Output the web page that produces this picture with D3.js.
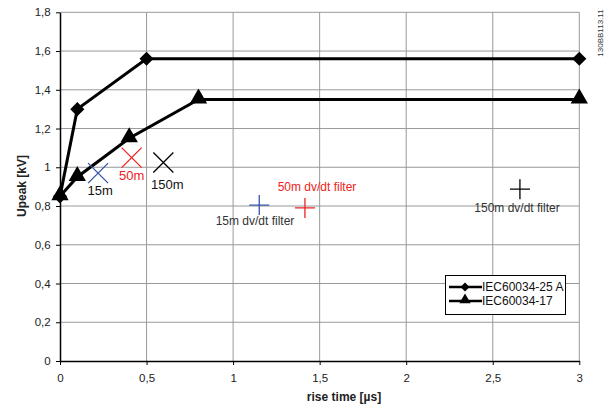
<!DOCTYPE html>
<html><head><meta charset="utf-8">
<script src="https://cdn.jsdelivr.net/npm/d3@7"></script>
<style>body{margin:0;background:#fff}svg{display:block;font-family:"Liberation Sans",Arial,sans-serif}</style>
</head><body>
<svg id="c" width="613" height="408"></svg>
<script>
const xTicks = [0, 0.5, 1, 1.5, 2, 2.5, 3];
const xTickLabels = ["0", "0,5", "1", "1,5", "2", "2,5", "3"];
const yTicks = [0, 0.2, 0.4, 0.6, 0.8, 1, 1.2, 1.4, 1.6, 1.8];
const yTickLabels = ["0", "0,2", "0,4", "0,6", "0,8", "1", "1,2", "1,4", "1,6", "1,8"];
const seriesNames = ["IEC60034-25 A", "IEC60034-17"];
const iec25x = [0, 0.1, 0.5, 3];
const iec25y = [0.85, 1.3, 1.56, 1.56];
const iec17x = [0, 0.1, 0.4, 0.8, 3];
const iec17y = [0.85, 0.95, 1.15, 1.35, 1.35];
const cableNames = ["15m", "50m", "150m"];
const cableX = [0.22, 0.414, 0.597];
const cableY = [0.97, 1.05, 1.025];
const filterNames = ["15m dv/dt filter", "50m dv/dt filter", "150m dv/dt filter"];
const filterX = [1.151, 1.415, 2.657];
const filterY = [0.805, 0.79, 0.887];
const markColors = ["#3355aa", "#ee2222", "#000000"];

const svg = d3.select("#c");
const L = 60, R = 579.3, T = 12.3, B = 361;
const x = d3.scaleLinear().domain([0, 3]).range([L, R]);
const y = d3.scaleLinear().domain([0, 1.8]).range([B, T]);

// grid
svg.append("g").selectAll("line").data(xTicks.slice(1)).join("line")
  .attr("x1", d => x(d)).attr("x2", d => x(d)).attr("y1", T).attr("y2", B)
  .attr("stroke", "#999").attr("stroke-width", 1);
svg.append("g").selectAll("line").data(yTicks.slice(1)).join("line")
  .attr("x1", L).attr("x2", R).attr("y1", d => y(d)).attr("y2", d => y(d))
  .attr("stroke", "#999").attr("stroke-width", 1);

// axes
const xAxis = svg.append("g").attr("transform", `translate(0,${B})`)
  .call(d3.axisBottom(x).tickValues(xTicks).tickFormat((d, i) => xTickLabels[i]).tickSize(4).tickSizeOuter(0));
const yAxis = svg.append("g").attr("transform", `translate(${L},0)`)
  .call(d3.axisLeft(y).tickValues(yTicks).tickFormat((d, i) => yTickLabels[i]).tickSize(4).tickSizeOuter(0));
[xAxis, yAxis].forEach(a => {
  a.select(".domain").attr("stroke", "#000").attr("stroke-width", 1.5);
  a.selectAll(".tick line").attr("stroke", "#000");
  a.selectAll("text").attr("font-size", 11.5).attr("fill", "#222")
    .attr("font-family", '"Liberation Sans",Arial,sans-serif');
});
xAxis.selectAll("text").attr("dy", "1.2em");
yAxis.selectAll("text").attr("dx", "-0.2em");

// axis titles
svg.append("text").attr("x", 344).attr("y", 401).attr("text-anchor", "middle")
  .attr("font-size", 12).attr("font-weight", "bold").attr("fill", "#222").text("rise time [µs]");
svg.append("text").attr("transform", "translate(26,186) rotate(-90)").attr("text-anchor", "middle")
  .attr("font-size", 12).attr("font-weight", "bold").attr("fill", "#222").text("Upeak [kV]");
svg.append("text").attr("transform", "translate(603,33) rotate(-90)").attr("text-anchor", "middle")
  .attr("font-size", 8).attr("fill", "#333").text("130BB113.11");

const line = d3.line().x(d => x(d[0])).y(d => y(d[1]));
const d25 = iec25x.map((v, i) => [v, iec25y[i]]);
const d17 = iec17x.map((v, i) => [v, iec17y[i]]);
svg.append("path").attr("d", line(d25)).attr("fill", "none").attr("stroke", "#000").attr("stroke-width", 3);
svg.append("path").attr("d", line(d17)).attr("fill", "none").attr("stroke", "#000").attr("stroke-width", 3);

const diamond = d3.symbol().type(d3.symbolSquare).size(100);
const tri = d3.symbol().type(d3.symbolTriangle).size(130);
svg.append("g").selectAll("path").data(d25).join("path")
  .attr("d", diamond()).attr("transform", d => `translate(${x(d[0])},${y(d[1])}) rotate(45)`).attr("fill", "#000");
svg.append("g").selectAll("path").data(d17).join("path")
  .attr("d", tri()).attr("transform", d => `translate(${x(d[0])},${y(d[1]) - 1})`).attr("fill", "#000");

// cable X markers
const cx = svg.append("g");
cableX.forEach((v, i) => {
  const px = x(v), py = y(cableY[i]), s = 10;
  cx.append("path").attr("d", `M${px - s},${py - s}L${px + s},${py + s}M${px - s},${py + s}L${px + s},${py - s}`)
    .attr("stroke", markColors[i]).attr("stroke-width", 1.3).attr("fill", "none");
});
const cableLabelDx = [2, 0, 4];
const cableLabelY = [195, 180, 189];
cableNames.forEach((n, i) => {
  svg.append("text").attr("x", x(cableX[i]) + cableLabelDx[i]).attr("y", cableLabelY[i]).attr("text-anchor", "middle")
    .attr("font-size", 13).attr("fill", i === 1 ? "#ee2222" : "#111").text(n);
});

// filter + markers
filterX.forEach((v, i) => {
  const px = x(v), py = y(filterY[i]), s = 10;
  svg.append("path").attr("d", `M${px - s},${py}L${px + s},${py}M${px},${py - s}L${px},${py + s}`)
    .attr("stroke", markColors[i]).attr("stroke-width", 1.3).attr("fill", "none");
});
const filterLabelX = [255, 317, 517];
const filterLabelY = [225, 191, 212];
filterNames.forEach((n, i) => {
  svg.append("text").attr("x", filterLabelX[i]).attr("y", filterLabelY[i]).attr("text-anchor", "middle")
    .attr("font-size", 12).attr("fill", i === 1 ? "#ee2222" : "#333").text(n);
});

// legend
const lg = svg.append("g");
lg.append("rect").attr("x", 445.5).attr("y", 275.5).attr("width", 120).attr("height", 39)
  .attr("fill", "#fff").attr("stroke", "#000").attr("stroke-width", 1);
seriesNames.forEach((n, i) => {
  const ly = 287 + i * 14;
  lg.append("line").attr("x1", 449).attr("x2", 482).attr("y1", ly).attr("y2", ly).attr("stroke", "#000").attr("stroke-width", 2.5);
  lg.append("path").attr("d", i === 0 ? d3.symbol().type(d3.symbolSquare).size(40)() : d3.symbol().type(d3.symbolTriangle).size(55)())
    .attr("transform", i === 0 ? `translate(465,${ly}) rotate(45)` : `translate(465,${ly - 1})`).attr("fill", "#000");
  lg.append("text").attr("x", 482).attr("y", ly + 4).attr("font-size", 12).attr("fill", "#111").text(n);
});
</script>
</body></html>
